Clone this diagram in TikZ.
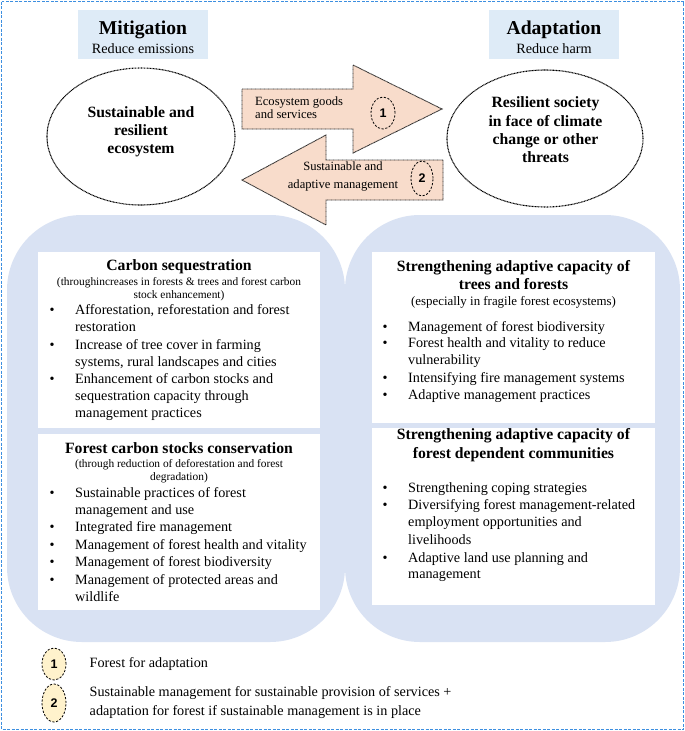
\documentclass[tikz,border=0pt]{standalone}
\usepackage{fontspec}
\setmainfont{Liberation Serif}
\newfontfamily\digfont{Liberation Sans}
\usetikzlibrary{shapes.geometric}
\definecolor{frameblue}{HTML}{3D8FE0}
\definecolor{titlefill}{HTML}{DEEBF7}
\definecolor{blobfill}{HTML}{D9E2F3}
\definecolor{arrowfill}{HTML}{F8DCCB}
\definecolor{legendfill}{HTML}{FFF2CC}
\newcommand\FsBody{\fontsize{14.2}{17}\selectfont}
\newcommand\FsHead{\fontsize{15.7}{18}\selectfont\bfseries}
\newcommand\FsSubL{\fontsize{11.4}{13}\selectfont}
\newcommand\FsSubR{\fontsize{12.9}{15}\selectfont}
\newcommand\FsTitle{\fontsize{19.6}{22}\selectfont\bfseries}
\newcommand\FsArrow{\fontsize{12.6}{14}\selectfont}
\newcommand\FsDig{\fontsize{12.5}{14}\selectfont\digfont\bfseries}
\newcounter{nn}
\newcommand\Tl[2]{\stepcounter{nn}\node[txt,anchor=base west] (n\thenn) at (#1) {#2};}
\newcommand\Bi[4]{\stepcounter{nn}\node[txt,anchor=base] (b\thenn) at (#1,#3) {\textbullet};
  \node[txt,anchor=base west] (n\thenn) at (#2,#3) {#4};}
\newcommand\Hc[3]{\stepcounter{nn}\node[anchor=base,inner sep=0pt,font=#1] (h\thenn) at (#2) {#3};}
\tikzset{
  txt/.style={inner sep=0pt,font=\FsBody},
  titlebox/.style={fill=titlefill,draw=none},
  blob/.style={fill=blobfill,draw=none,rounded corners=75pt},
  panel/.style={fill=white,draw=none},
  bigell/.style={ellipse,draw=black,line width=1.1pt,dash pattern=on 0.9pt off 0.6pt,inner sep=0pt},
  blockarrow/.style={fill=arrowfill,draw=black!85,line width=0.9pt,dash pattern=on 0.8pt off 0.5pt},
  numell/.style={ellipse,draw=black,line width=0.8pt,dash pattern=on 2.2pt off 1.6pt,inner sep=0pt,font=\FsDig},
}
\begin{document}
\begin{tikzpicture}[x=1pt,y=-1pt]
\useasboundingbox (0,0) rectangle (685,731);
\fill[white] (0,0) rectangle (685,731);
\draw[frameblue,line width=1.3pt,dash pattern=on 3pt off 1.5pt] (1.5,1.5) rectangle (683.5,729.5);
% title boxes
\fill[titlebox] (78,10) rectangle (208,59);
\fill[titlebox] (489,10) rectangle (619,59);
\Hc{\FsTitle}{143,34}{Mitigation}
\Hc{\FsBody}{143,53.3}{Reduce emissions}
\Hc{\FsTitle}{554,34}{Adaptation}
\Hc{\FsBody}{554,53.3}{Reduce harm}
% ellipses
\node[bigell,minimum width=188pt,minimum height=137pt] (eco) at (141,136.5) {};
\node[bigell,minimum width=196pt,minimum height=137pt] (soc) at (545,138.5) {};
\Hc{\FsHead}{141,117}{Sustainable and}
\Hc{\FsHead}{141,135}{resilient}
\Hc{\FsHead}{141,153.5}{ecosystem}
\Hc{\FsHead}{545.5,107.7}{Resilient society}
\Hc{\FsHead}{545.5,126}{in face of climate}
\Hc{\FsHead}{545.5,144.3}{change or other}
\Hc{\FsHead}{545.5,162.5}{threats}
% blobs
\fill[blob] (7,215) rectangle (345,642);
\fill[blob] (345,215) rectangle (680,642);
% panels
\fill[panel] (38,252) rectangle (320,428);
\fill[panel] (38,434) rectangle (320,610);
\fill[panel] (372,252) rectangle (655,423);
\fill[panel] (372,428) rectangle (655,605);
% block arrows
\draw[blockarrow] (242,89) -- (353,89) -- (353,65) -- (442,109) -- (353,153) -- (353,129) -- (242,129) -- cycle;
\draw[blockarrow] (443,160) -- (326,160) -- (326,135) -- (242,180) -- (326,225) -- (326,200) -- (443,200) -- cycle;
\node[anchor=base west,inner sep=0pt,font=\FsArrow] (a1) at (255,105.5) {Ecosystem goods};
\node[anchor=base west,inner sep=0pt,font=\FsArrow] (a2) at (255,118.8) {and services};
\node[anchor=base,inner sep=0pt,font=\FsArrow] (a3) at (343,170.8) {Sustainable and};
\node[anchor=base,inner sep=0pt,font=\FsArrow] (a4) at (343,188.8) {adaptive management};
\node[numell,minimum width=24pt,minimum height=32pt] (c1) at (383,113) {1};
\node[numell,minimum width=22pt,minimum height=35pt] (c2) at (422,178.5) {2};
% left top panel
\Hc{\FsHead}{179,270.5}{Carbon sequestration}
\Hc{\FsSubL}{179,285.5}{(throughincreases in forests \& trees and forest carbon}
\Hc{\FsSubL}{179,298.5}{stock enhancement)}
\Bi{52}{75}{314.3}{Afforestation, reforestation and forest}
\Tl{75,331}{restoration}
\Bi{52}{75}{349.3}{Increase of tree cover in farming}
\Tl{75,366}{systems, rural landscapes and cities}
\Bi{52}{75}{383.6}{Enhancement of carbon stocks and}
\Tl{75,400.3}{sequestration capacity through}
\Tl{75,417}{management practices}
% left bottom panel
\Hc{\FsHead}{179,453.7}{Forest carbon stocks conservation}
\Hc{\FsSubL}{179,467.7}{(through reduction of deforestation and forest}
\Hc{\FsSubL}{179,480.1}{degradation)}
\Bi{52}{75}{497.6}{Sustainable practices of forest}
\Tl{75,514.3}{management and use}
\Bi{52}{75}{531.6}{Integrated fire management}
\Bi{52}{75}{549.3}{Management of forest health and vitality}
\Bi{52}{75}{566.6}{Management of forest biodiversity}
\Bi{52}{75}{584.3}{Management of protected areas and}
\Tl{75,601}{wildlife}
% right top panel
\Hc{\FsHead}{513.5,271.4}{Strengthening adaptive capacity of}
\Hc{\FsHead}{513.5,289.7}{trees and forests}
\Hc{\FsSubR}{513.5,305.6}{(especially in fragile forest ecosystems)}
\Bi{385}{408}{331}{Management of forest biodiversity}
\Bi{385}{408}{347.6}{Forest health and vitality to reduce}
\Tl{408,364.3}{vulnerability}
\Bi{385}{408}{382.6}{Intensifying fire management systems}
\Bi{385}{408}{399.3}{Adaptive management practices}
% right bottom panel
\Hc{\FsHead}{513.5,439.7}{Strengthening adaptive capacity of}
\Hc{\FsHead}{513.5,458}{forest dependent communities}
\Bi{385}{408}{492.6}{Strengthening coping strategies}
\Bi{385}{408}{509.3}{Diversifying forest management-related}
\Tl{408,526.6}{employment opportunities and}
\Tl{408,544.3}{livelihoods}
\Bi{385}{408}{562}{Adaptive land use planning and}
\Tl{408,578.3}{management}
% legend
\node[numell,fill=legendfill,minimum width=24pt,minimum height=32pt] (l1) at (54,664) {1};
\node[numell,fill=legendfill,minimum width=24pt,minimum height=38pt] (l2) at (54,703) {2};
\Tl{89.5,667.5}{Forest for adaptation}
\Tl{89.5,696.5}{Sustainable management for sustainable provision of services +}
\Tl{89.5,715.3}{adaptation for forest if sustainable management is in place}
\end{tikzpicture}
\end{document}
